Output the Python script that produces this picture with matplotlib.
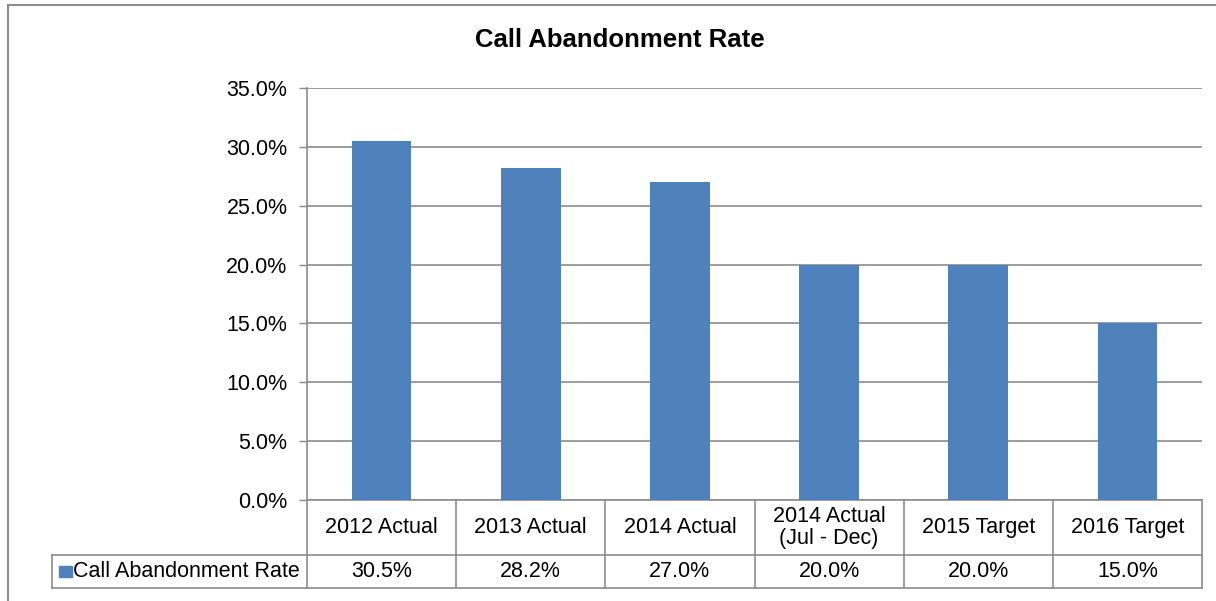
"""Call abandonment rate: Excel-style column chart with a data table below."""

import matplotlib.pyplot as plt
import matplotlib.ticker as mticker
from matplotlib.lines import Line2D
from matplotlib.patches import Rectangle
import matplotlib.transforms as mtransforms

plt.switch_backend("Agg")
plt.rcParams["font.family"] = ["Liberation Sans", "DejaVu Sans"]

BAR = "#4F81BD"
GRID = "#8C8C8C"
INK = "#000000"

categories = ["2012 Actual", "2013 Actual", "2014 Actual",
              "2014 Actual\n(Jul - Dec)", "2015 Target", "2016 Target"]
rates = [30.5, 28.2, 27.0, 20.0, 20.0, 15.0]
series_name = "Call Abandonment Rate"
yticks = [0, 5, 10, 15, 20, 25, 30, 35]

W, H = 1216, 601
fig = plt.figure(figsize=(W / 100, H / 100), dpi=100)
fig.patch.set_facecolor("white")

# plot area in pixels: x 307..1202, y 88..500
ax = fig.add_axes([307 / W, 1 - 500 / H, (1202 - 307) / W, (500 - 88) / H])
x = list(range(len(categories)))
ax.bar(x, rates, width=0.4, color=BAR, zorder=3)

ax.set_xlim(-0.5, len(categories) - 0.5)
ax.set_ylim(0, 35)
ax.set_yticks(yticks)
ax.yaxis.set_major_formatter(mticker.FuncFormatter(lambda v, _: f"{v:.1f}%"))
ax.tick_params(axis="y", length=6, width=1, color=GRID, pad=8, labelsize=15.5)
ax.set_xticks([])
ax.yaxis.grid(True, color=GRID, linewidth=1.2, zorder=0)
ax.set_axisbelow(True)
for side in ["top", "right"]:
    ax.spines[side].set_visible(False)
for side in ["left", "bottom"]:
    ax.spines[side].set_color(GRID)
    ax.spines[side].set_linewidth(1.2)

# data table under the axis
trans = mtransforms.blended_transform_factory(ax.transData, ax.transAxes)
px = 1 / (500 - 88)
row1 = -55 * px
row2 = -88 * px
line_kw = dict(color=GRID, linewidth=1.2, clip_on=False)
for b in [i - 0.5 for i in range(len(categories) + 1)]:
    ax.add_line(Line2D([b, b], [0, row2], transform=trans, **line_kw))
ax.add_line(Line2D([-0.5, len(categories) - 0.5], [row1, row1], transform=trans, **line_kw))
ax.add_line(Line2D([-0.5, len(categories) - 0.5], [row2, row2], transform=trans, **line_kw))

left = (52 - 307) / (1202 - 307)
ax.add_line(Line2D([left, 0], [row1, row1], transform=ax.transAxes, **line_kw))
ax.add_line(Line2D([left, 0], [row2, row2], transform=ax.transAxes, **line_kw))
ax.add_line(Line2D([left, left], [row1, row2], transform=ax.transAxes, **line_kw))

for xi, cat, v in zip(x, categories, rates):
    ax.text(xi, row1 / 2, cat, transform=trans, ha="center", va="center",
            fontsize=15.5, color=INK, linespacing=1.1)
    ax.text(xi, (row1 + row2) / 2, f"{v:.1f}%", transform=trans, ha="center",
            va="center", fontsize=15.5, color=INK)

sq_w = 13 / (1202 - 307)
sq_h = 11 * px
ax.add_patch(Rectangle((left + 7 / (1202 - 307), (row1 + row2) / 2 - sq_h / 2), sq_w, sq_h,
                       transform=ax.transAxes, color=BAR, clip_on=False))
ax.text(left + 21 / (1202 - 307), (row1 + row2) / 2, series_name, transform=ax.transAxes,
        ha="left", va="center", fontsize=15.5, color=INK)

fig.text(620 / W, 1 - 40 / H, "Call Abandonment Rate", ha="center", va="center",
         fontsize=18.5, fontweight="bold", color=INK)

# outer chart border (runs off the right and bottom edges)
bx, by = 8 / W, 1 - 5 / H
fig.add_artist(Line2D([bx, bx], [0, by], transform=fig.transFigure, color=GRID, linewidth=1.5))
fig.add_artist(Line2D([bx, 1], [by, by], transform=fig.transFigure, color=GRID, linewidth=1.5))

fig.savefig("out.png", dpi=100)
